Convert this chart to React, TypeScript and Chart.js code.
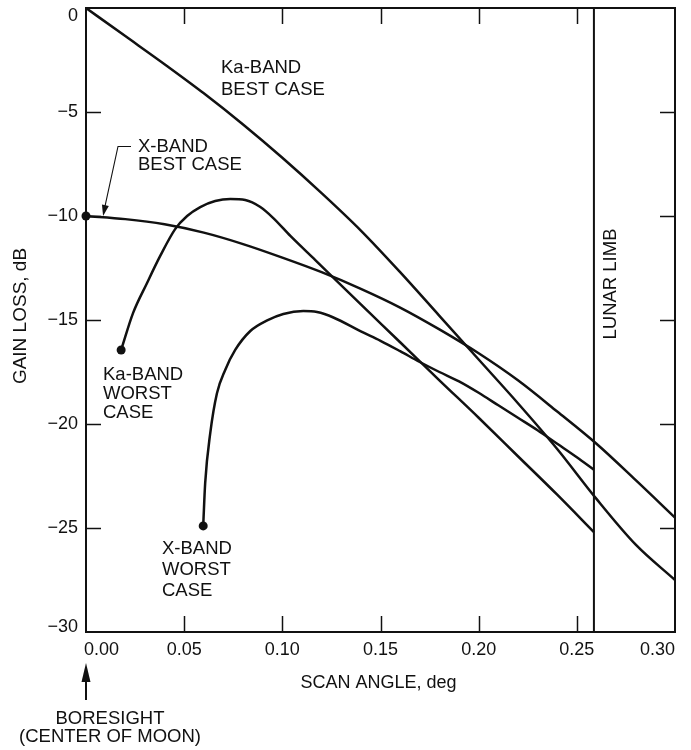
import React, { useEffect, useRef } from "react";
import { Chart, registerables } from "chart.js";
Chart.register(...registerables);

// ---- data (scan angle in deg, gain loss in dB) ----
const kaBestAngle = [0, 0.02, 0.04, 0.06, 0.08, 0.10, 0.12, 0.14, 0.16, 0.18, 0.20, 0.22, 0.24, 0.26, 0.28, 0.30];
const kaBestLoss = [0, -1.35, -2.7, -4.1, -5.6, -7.2, -8.9, -10.7, -12.7, -14.8, -16.9, -19.0, -21.2, -23.6, -25.8, -27.5];

const xBestAngle = [0, 0.02, 0.04, 0.06, 0.08, 0.10, 0.12, 0.14, 0.16, 0.18, 0.20, 0.22, 0.24, 0.26, 0.28, 0.30];
const xBestLoss = [-10.0, -10.15, -10.4, -10.8, -11.35, -12.0, -12.7, -13.5, -14.4, -15.45, -16.6, -17.9, -19.4, -20.95, -22.7, -24.5];

const kaWorstAngle = [0.0179, 0.024, 0.0311, 0.0378, 0.0454, 0.0515, 0.0582, 0.0658, 0.0735, 0.0811, 0.0888, 0.0954, 0.1041, 0.1168, 0.14, 0.16, 0.18, 0.20, 0.22, 0.24, 0.2587];
const kaWorstLoss = [-16.44, -14.66, -13.22, -11.92, -10.63, -10.0, -9.57, -9.28, -9.18, -9.23, -9.57, -10.1, -10.96, -12.12, -14.25, -16.07, -17.9, -19.7, -21.55, -23.4, -25.2];

const xWorstAngle = [0.0597, 0.0607, 0.0633, 0.0667, 0.0709, 0.076, 0.0837, 0.0923, 0.1005, 0.1107, 0.1177, 0.126, 0.14, 0.15, 0.16, 0.17, 0.18, 0.19, 0.20, 0.21, 0.22, 0.23, 0.24, 0.25, 0.2587];
const xWorstLoss = [-24.9, -22.84, -20.43, -18.52, -17.4, -16.44, -15.53, -15.02, -14.71, -14.57, -14.62, -14.88, -15.55, -16.0, -16.5, -17.02, -17.5, -17.95, -18.5, -19.1, -19.7, -20.3, -20.95, -21.6, -22.2];

const lunarLimbAngle = 0.2587;

const xTickValues = [0, 0.05, 0.1, 0.15, 0.2, 0.25, 0.3];
const xTickLabels = ["0.00", "0.05", "0.10", "0.15", "0.20", "0.25", "0.30"];
const yTickValues = [0, -5, -10, -15, -20, -25, -30];
const yTickLabels = ["0", "\u22125", "\u221210", "\u221215", "\u221220", "\u221225", "\u221230"];

const xTitle = "SCAN ANGLE, deg";
const yTitle = "GAIN LOSS, dB";

const INK = "#111111";
const FONT = '18px "Liberation Sans", Arial, Helvetica, sans-serif';
const FONT_L = '18.5px "Liberation Sans", Arial, Helvetica, sans-serif';

const pts = (xs: number[], ys: number[]) => xs.map((x, i) => ({ x, y: ys[i] }));

function arrow(ctx: CanvasRenderingContext2D, x1: number, y1: number, x2: number, y2: number, len: number, half: number) {
  const ang = Math.atan2(y2 - y1, x2 - x1);
  const bx = x2 - len * Math.cos(ang);
  const by = y2 - len * Math.sin(ang);
  ctx.beginPath();
  ctx.moveTo(x2, y2);
  ctx.lineTo(bx + half * Math.sin(ang), by - half * Math.cos(ang));
  ctx.lineTo(bx - half * Math.sin(ang), by + half * Math.cos(ang));
  ctx.closePath();
  ctx.fill();
}

const decorPlugin = {
  id: "decor",
  afterDraw(chart: any) {
    const { ctx, chartArea: a, scales } = chart;
    const xs = scales.x;
    const ys = scales.y;
    ctx.save();
    ctx.strokeStyle = INK;
    ctx.fillStyle = INK;
    // frame
    ctx.lineWidth = 2;
    ctx.strokeRect(a.left, a.top, a.right - a.left, a.bottom - a.top);
    // inward ticks
    ctx.lineWidth = 1.5;
    const TL = 15;
    const seg = (x1: number, y1: number, x2: number, y2: number) => {
      ctx.beginPath();
      ctx.moveTo(x1, y1);
      ctx.lineTo(x2, y2);
      ctx.stroke();
    };
    xTickValues.forEach((v, i) => {
      if (i === 0 || i === xTickValues.length - 1) return;
      const px = Math.round(xs.getPixelForValue(v)) + 0.5;
      seg(px, a.bottom, px, a.bottom - TL - 1);
      seg(px, a.top, px, a.top + TL + 1);
    });
    yTickValues.forEach((v, i) => {
      if (i === 0 || i === yTickValues.length - 1) return;
      const py = Math.round(ys.getPixelForValue(v)) + 0.5;
      seg(a.left, py, a.left + TL, py);
      seg(a.right, py, a.right - TL, py);
    });
    // tick labels
    ctx.font = FONT;
    ctx.textBaseline = "middle";
    xTickValues.forEach((v, i) => {
      const px = xs.getPixelForValue(v);
      let align: CanvasTextAlign = "center";
      if (i === 0) align = "left";
      if (i === xTickValues.length - 1) align = "right";
      ctx.textAlign = align;
      ctx.fillText(xTickLabels[i], i === 0 ? px - 2 : px, a.bottom + 18);
    });
    ctx.textAlign = "right";
    yTickValues.forEach((v, i) => {
      let py = ys.getPixelForValue(v);
      if (i === 0) py += 8;
      if (i === yTickValues.length - 1) py -= 5;
      ctx.fillText(yTickLabels[i], a.left - 8, py);
    });
    // axis titles
    ctx.textAlign = "center";
    ctx.fillText(xTitle, (a.left + a.right) / 2 - 2, 683);
    ctx.save();
    ctx.translate(21, 316);
    ctx.rotate(-Math.PI / 2);
    ctx.font = '19px "Liberation Sans", Arial, Helvetica, sans-serif';
    ctx.fillText(yTitle, 0, 0);
    ctx.restore();

    // curve labels
    ctx.font = FONT_L;
    ctx.textAlign = "left";
    ctx.fillText("Ka-BAND", 221, 68);
    ctx.fillText("BEST CASE", 221, 90);
    ctx.fillText("X-BAND", 138, 147);
    ctx.fillText("BEST CASE", 138, 165);
    ctx.fillText("Ka-BAND", 103, 375);
    ctx.fillText("WORST", 103, 394);
    ctx.fillText("CASE", 103, 413);
    ctx.fillText("X-BAND", 162, 549);
    ctx.fillText("WORST", 162, 570);
    ctx.fillText("CASE", 162, 591);

    // lunar limb label
    ctx.save();
    const limbPx = xs.getPixelForValue(lunarLimbAngle);
    ctx.translate(limbPx + 17, 284);
    ctx.rotate(-Math.PI / 2);
    ctx.textAlign = "center";
    ctx.fillText("LUNAR LIMB", 0, 0);
    ctx.restore();

    // X-band best leader arrow
    const tipX = xs.getPixelForValue(0.0087);
    const tipY = ys.getPixelForValue(-10.05) - 1;
    ctx.lineWidth = 1.1;
    ctx.beginPath();
    ctx.moveTo(131, 146.5);
    ctx.lineTo(118, 146.5);
    ctx.lineTo(tipX + 1.5, tipY - 8);
    ctx.stroke();
    arrow(ctx, 118, 146.5, tipX, tipY, 11, 3.5);

    // boresight arrow
    const bx = xs.getPixelForValue(0);
    ctx.lineWidth = 2;
    seg(bx, 700, bx, 675);
    arrow(ctx, bx, 700, bx, 663, 19, 4.5);
    ctx.textAlign = "center";
    ctx.font = FONT_L;
    ctx.fillText("BORESIGHT", 110, 719);
    ctx.fillText("(CENTER OF MOON)", 110, 737);

    ctx.restore();
  },
};

export default function App() {
  const ref = useRef<HTMLCanvasElement | null>(null);
  useEffect(() => {
    if (!ref.current) return;
    const lineDs = (label: string, data: { x: number; y: number }[], dot: boolean) => ({
      label,
      data,
      borderColor: INK,
      backgroundColor: INK,
      borderWidth: 2.5,
      pointRadius: data.map((_, i) => (dot && i === 0 ? 4.5 : 0)),
      pointBorderWidth: 0,
      pointBackgroundColor: INK,
      cubicInterpolationMode: "monotone" as const,
      fill: false,
      clip: false as const,
    });
    const chart = new Chart(ref.current, {
      type: "line",
      data: {
        datasets: [
          lineDs("Ka-BAND BEST CASE", pts(kaBestAngle, kaBestLoss), false),
          lineDs("X-BAND BEST CASE", pts(xBestAngle, xBestLoss), true),
          lineDs("Ka-BAND WORST CASE", pts(kaWorstAngle, kaWorstLoss), true),
          lineDs("X-BAND WORST CASE", pts(xWorstAngle, xWorstLoss), true),
          {
            label: "LUNAR LIMB",
            data: [
              { x: lunarLimbAngle, y: 0 },
              { x: lunarLimbAngle, y: -30 },
            ],
            borderColor: INK,
            borderWidth: 2,
            pointRadius: 0,
            tension: 0,
            fill: false,
          },
        ],
      },
      options: {
        animation: false,
        responsive: false,
        devicePixelRatio: 1,
        layout: { padding: { left: 86, right: 16, top: 8, bottom: 118 } },
        plugins: { legend: { display: false }, tooltip: { enabled: false }, title: { display: false } },
        events: [],
        scales: {
          x: { type: "linear", min: 0, max: 0.3, display: false },
          y: { type: "linear", min: -30, max: 0, display: false },
        },
      },
      plugins: [decorPlugin],
    });
    return () => chart.destroy();
  }, []);
  return (
    <div style={{ position: "absolute", left: 0, top: 0, width: 691, height: 750, background: "#fff" }}>
      <canvas ref={ref} width={691} height={750} style={{ display: "block" }} />
    </div>
  );
}
